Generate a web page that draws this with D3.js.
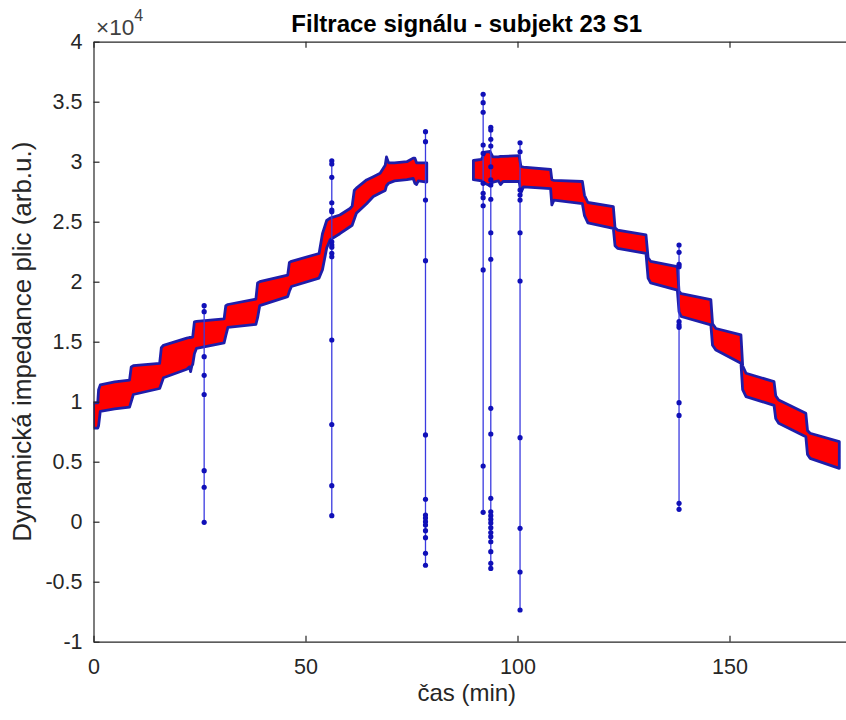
<!DOCTYPE html>
<html>
<head>
<meta charset="utf-8">
<script src="https://cdn.jsdelivr.net/npm/d3@7"></script>
<style>
  html, body { margin: 0; padding: 0; background: #fff; }
  svg { display: block; }
  text { font-family: "Liberation Sans", Arial, Helvetica, sans-serif; }
</style>
</head>
<body>
<svg id="chart" width="846" height="720"></svg>
<script>
// ---------- DATA (values in units of 10^4) ----------
const titleText = "Filtrace signálu - subjekt 23 S1";
const xLabelText = "čas (min)";
const yLabelText = "Dynamická impedance plic (arb.u.)";

const xTicks = [0, 50, 100, 150];
const xTickLabels = ["0", "50", "100", "150"];
const yTicks = [-1, -0.5, 0, 0.5, 1, 1.5, 2, 2.5, 3, 3.5, 4];
const yTickLabels = ["-1", "-0.5", "0", "0.5", "1", "1.5", "2", "2.5", "3", "3.5", "4"];

// Segment 1 of the signal band (before the gap)
const bandTimes1 = [0, 1.0, 1.2, 1.6, 5, 8.5, 8.9, 9.4, 15.6, 16.0, 16.5, 22.0, 22.6, 22.9, 23.2, 23.4, 23.8, 24.3, 30.8, 31.2, 31.7, 38.3, 38.7, 39.2, 45.8, 46.2, 46.7, 53.2, 54.0, 55.0, 55.8, 58.1, 60.5, 61.0, 61.5, 62.0, 64.4, 66.0, 67.6, 68.8, 69.1, 69.6, 71.0, 73.9, 75.4, 75.8, 76.2, 76.6, 78.6];
const bandUpper1 = [0.99, 0.99, 1.10, 1.14, 1.165, 1.18, 1.29, 1.30, 1.32, 1.45, 1.47, 1.53, 1.535, 1.535, 1.537, 1.54, 1.665, 1.67, 1.69, 1.80, 1.81, 1.855, 1.99, 2.00, 2.055, 2.16, 2.17, 2.235, 2.40, 2.51, 2.53, 2.556, 2.61, 2.63, 2.76, 2.78, 2.848, 2.875, 2.903, 2.97, 3.04, 2.99, 2.99, 3.00, 3.03, 3.03, 2.99, 2.99, 2.99];
const bandLower1 = [0.78, 0.78, 0.80, 0.92, 0.94, 0.955, 1.00, 1.06, 1.11, 1.15, 1.20, 1.27, 1.29, 1.25, 1.30, 1.31, 1.40, 1.445, 1.49, 1.55, 1.62, 1.645, 1.70, 1.80, 1.875, 1.92, 1.96, 2.03, 2.10, 2.28, 2.35, 2.40, 2.458, 2.47, 2.52, 2.57, 2.65, 2.71, 2.74, 2.76, 2.80, 2.82, 2.84, 2.85, 2.86, 2.82, 2.81, 2.84, 2.83];

// Segment 2 of the signal band (after the gap)
const bandTimes2 = [89.6, 91.5, 92.3, 93.5, 94.2, 95.5, 96.0, 96.6, 100.4, 100.8, 101.4, 107.8, 108.1, 108.6, 115.3, 115.8, 116.6, 122.6, 123.0, 123.6, 130.3, 130.8, 131.4, 137.7, 138.1, 138.6, 145.6, 146.0, 146.8, 152.7, 153.1, 153.9, 160.5, 160.9, 161.6, 168.0, 168.4, 169.0, 175.9];
const bandUpper2 = [3.01, 3.02, 3.08, 3.085, 3.04, 3.04, 3.045, 3.045, 3.05, 2.96, 2.955, 2.935, 2.85, 2.845, 2.835, 2.72, 2.66, 2.625, 2.45, 2.43, 2.39, 2.20, 2.17, 2.125, 1.92, 1.90, 1.85, 1.65, 1.61, 1.556, 1.30, 1.237, 1.167, 1.05, 1.014, 0.903, 0.76, 0.737, 0.667];
const bandLower2 = [2.85, 2.84, 2.82, 2.80, 2.83, 2.84, 2.81, 2.835, 2.835, 2.74, 2.79, 2.775, 2.64, 2.68, 2.65, 2.55, 2.49, 2.445, 2.30, 2.278, 2.236, 2.03, 1.99, 1.93, 1.75, 1.71, 1.64, 1.47, 1.43, 1.32, 1.10, 1.042, 0.97, 0.86, 0.82, 0.708, 0.56, 0.528, 0.445];

// Artefact spikes (raw signal samples)
const spikeTimes = [26.1, 56.2, 78.3, 91.9, 93.7, 100.6, 138.1];
const spikeValues = [
  [1.80, 1.75, 1.375, 1.22, 1.06, 0.425, 0.287, -0.005],
  [3.008, 2.981, 2.87, 2.658, 2.597, 2.583, 2.333, 2.306, 2.287, 2.237, 2.208, 1.514, 0.81, 0.30, 0.05],
  [3.25, 3.167, 2.681, 2.175, 0.723, 0.187, 0.056, 0.03, 0.0, -0.028, -0.075, -0.133, -0.263, -0.363],
  [3.562, 3.492, 3.412, 3.139, 3.069, 2.82, 2.737, 2.70, 2.633, 2.098, 0.464, 0.078],
  [3.287, 3.264, 3.187, 3.131, 2.958, 2.848, 2.806, 2.687, 2.408, 2.187, 0.945, 0.731, 0.195, 0.083, 0.05, 0.02, -0.01, -0.05, -0.09, -0.125, -0.167, -0.25, -0.347, -0.389],
  [3.158, 3.083, 2.764, 2.722, 2.68, 2.408, 2.006, 0.70, -0.055, -0.419, -0.736],
  [2.306, 2.245, 2.145, 2.125, 1.667, 1.639, 1.62, 0.992, 0.886, 0.153, 0.103]
];

// ---------- LAYOUT ----------
const svg = d3.select("#chart");
const mLeft = 93.5, mTop = 41.7, mBottom = 641.7;
const x = d3.scaleLinear().domain([0, 180]).range([mLeft, mLeft + 180 * 4.24]);
const y = d3.scaleLinear().domain([-1, 4]).range([mBottom, mTop]);
const mRight = x.range()[1];
const axisColor = "#262626";

svg.append("defs").append("clipPath").attr("id", "clip")
  .append("rect").attr("x", mLeft).attr("y", mTop).attr("width", mRight - mLeft).attr("height", mBottom - mTop);
const plot = svg.append("g").attr("clip-path", "url(#clip)");

// band
function bandData(ts, up, lo) { return ts.map((t, i) => ({ t: t, hi: up[i], lo: lo[i] })); }
const area = d3.area().x(d => x(d.t)).y0(d => y(d.lo)).y1(d => y(d.hi)).curve(d3.curveLinear);
[bandData(bandTimes1, bandUpper1, bandLower1), bandData(bandTimes2, bandUpper2, bandLower2)].forEach(b => {
  plot.append("path").datum(b).attr("d", area)
    .attr("fill", "#ff0000").attr("stroke", "#1e1eaa").attr("stroke-width", 2.8)
    .attr("stroke-linejoin", "round");
});

// spikes
spikeTimes.forEach((t, i) => {
  const vals = spikeValues[i];
  const g = plot.append("g");
  g.append("line")
    .attr("x1", x(t)).attr("x2", x(t))
    .attr("y1", y(d3.max(vals))).attr("y2", y(d3.min(vals)))
    .attr("stroke", "#3a3ae0").attr("stroke-width", 1.3);
  g.selectAll("circle").data(vals).join("circle")
    .attr("cx", x(t)).attr("cy", v => y(v)).attr("r", 2.6)
    .attr("fill", "#1010b8");
});

// ---------- AXES ----------
const ax = svg.append("g");
const xAxisB = d3.axisBottom(x).tickValues(xTicks).tickFormat((d, i) => xTickLabels[i]).tickSizeInner(-6).tickSizeOuter(0).tickPadding(17);
const gxb = ax.append("g").attr("transform", `translate(0,${mBottom})`).call(xAxisB);
const xAxisT = d3.axisTop(x).tickValues(xTicks).tickFormat("").tickSizeInner(-6).tickSizeOuter(0);
const gxt = ax.append("g").attr("transform", `translate(0,${mTop})`).call(xAxisT);
const yAxisL = d3.axisLeft(y).tickValues(yTicks).tickFormat((d, i) => yTickLabels[i]).tickSizeInner(-6).tickSizeOuter(0).tickPadding(11);
const gyl = ax.append("g").attr("transform", `translate(${mLeft},0)`).call(yAxisL);

[gxb, gxt, gyl].forEach(g => {
  g.select(".domain").attr("stroke", axisColor).attr("stroke-width", 1.2);
  g.selectAll(".tick line").attr("stroke", axisColor).attr("stroke-width", 1.2);
  g.selectAll(".tick text").attr("fill", axisColor).attr("font-size", 21.5)
    .attr("font-family", "'Liberation Sans', Arial, sans-serif");
});

// exponent label
const expo = svg.append("text").attr("x", 96).attr("y", 35).attr("fill", "#404040")
  .attr("font-size", 22.5);
expo.append("tspan").text("×10");
expo.append("tspan").attr("dy", -14).attr("font-size", 16).text("4");

// title
svg.append("text").attr("x", (mLeft + 840) / 2).attr("y", 32)
  .attr("text-anchor", "middle").attr("font-weight", "bold").attr("font-size", 24)
  .attr("fill", "#000").text(titleText);

// x label
svg.append("text").attr("x", (mLeft + 840) / 2).attr("y", 701)
  .attr("text-anchor", "middle").attr("font-size", 24).attr("fill", axisColor).text(xLabelText);

// y label
svg.append("text").attr("transform", `translate(31,${(mTop + mBottom) / 2}) rotate(-90)`)
  .attr("text-anchor", "middle").attr("font-size", 26).attr("fill", axisColor).text(yLabelText);
</script>
</body>
</html>
